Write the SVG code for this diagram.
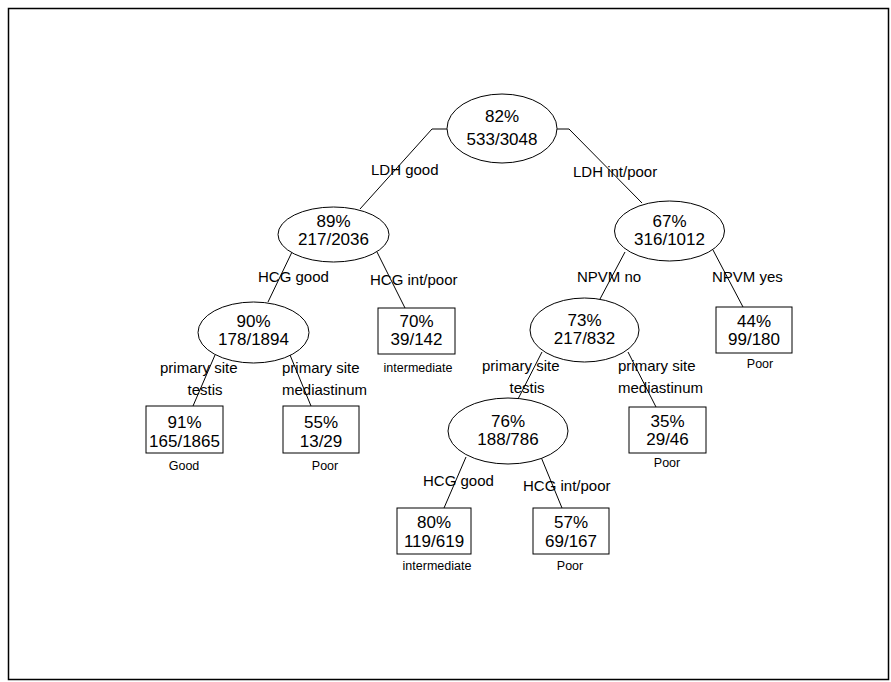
<svg xmlns="http://www.w3.org/2000/svg" width="891" height="682" viewBox="0 0 891 682">
<style>
.n{fill:#fff;stroke:#000;stroke-width:1}
.c{fill:none;stroke:#000;stroke-width:1}
.t{font-family:"Liberation Sans",Arial,sans-serif;font-size:17px;fill:#000;text-anchor:middle}
.l{font-family:"Liberation Sans",Arial,sans-serif;font-size:15px;fill:#000}
.s{font-family:"Liberation Sans",Arial,sans-serif;font-size:12.5px;fill:#000;text-anchor:middle}
</style>
<rect x="0" y="0" width="891" height="682" fill="#fff"/>
<rect x="8.5" y="8.5" width="880" height="671" fill="none" stroke="#000" stroke-width="1.5"/>
<g id="connectors">
<polyline class="c" points="447,129 432,129 360,209"/>
<polyline class="c" points="557,129 569,129 642,203"/>
<line class="c" x1="292" y1="252" x2="268" y2="302"/>
<line class="c" x1="377" y1="252" x2="405" y2="308"/>
<line class="c" x1="215" y1="355" x2="193" y2="406"/>
<line class="c" x1="290" y1="355" x2="311" y2="406"/>
<line class="c" x1="625" y1="252" x2="600" y2="299"/>
<line class="c" x1="713" y1="250" x2="743" y2="307"/>
<line class="c" x1="542" y1="352" x2="518" y2="399"/>
<line class="c" x1="628" y1="352" x2="656" y2="407"/>
<line class="c" x1="466" y1="457" x2="444" y2="508"/>
<line class="c" x1="541" y1="457" x2="562" y2="508"/>
</g>
<g id="labels">
<text class="l" x="371" y="175">LDH good</text>
<text class="l" x="573" y="177">LDH int/poor</text>
<text class="l" x="258" y="282">HCG good</text>
<text class="l" x="370" y="285">HCG int/poor</text>
<text class="l" x="577" y="282">NPVM no</text>
<text class="l" x="712" y="282">NPVM yes</text>
<text class="l" x="160" y="373">primary site</text>
<text class="l" x="205" y="395" text-anchor="middle">testis</text>
<text class="l" x="282" y="373">primary site</text>
<text class="l" x="282" y="395">mediastinum</text>
<text class="l" x="482" y="371">primary site</text>
<text class="l" x="527" y="393" text-anchor="middle">testis</text>
<text class="l" x="618" y="371">primary site</text>
<text class="l" x="618" y="393">mediastinum</text>
<text class="l" x="423" y="486">HCG good</text>
<text class="l" x="523" y="491">HCG int/poor</text>
</g>
<g id="n0"><ellipse class="n" cx="502" cy="128.5" rx="55" ry="34.5"/><text class="t" x="502" y="122">82%</text><text class="t" x="502" y="145">533/3048</text></g>
<g id="n1"><ellipse class="n" cx="333.5" cy="234.5" rx="55.5" ry="27.5"/><text class="t" x="333.5" y="227">89%</text><text class="t" x="333.5" y="245">217/2036</text></g>
<g id="n2"><ellipse class="n" cx="669.5" cy="231" rx="55" ry="30"/><text class="t" x="669.5" y="227">67%</text><text class="t" x="669.5" y="245">316/1012</text></g>
<g id="n3"><ellipse class="n" cx="253.5" cy="332.5" rx="55.5" ry="30.5"/><text class="t" x="253.5" y="327">90%</text><text class="t" x="253.5" y="345">178/1894</text></g>
<g id="n4"><ellipse class="n" cx="584.5" cy="330" rx="54.5" ry="32"/><text class="t" x="584.5" y="326">73%</text><text class="t" x="584.5" y="344">217/832</text></g>
<g id="n5"><ellipse class="n" cx="508" cy="431" rx="60" ry="33"/><text class="t" x="508" y="427">76%</text><text class="t" x="508" y="445">188/786</text></g>
<g id="b70"><rect class="n" x="378" y="308" width="77" height="46"/><text class="t" x="416.5" y="327">70%</text><text class="t" x="416.5" y="345">39/142</text><text class="s" x="418" y="372">intermediate</text></g>
<g id="b91"><rect class="n" x="146" y="406" width="77" height="47"/><text class="t" x="184.5" y="428">91%</text><text class="t" x="184.5" y="447">165/1865</text><text class="s" x="184" y="470">Good</text></g>
<g id="b55"><rect class="n" x="283" y="406" width="76" height="47"/><text class="t" x="321" y="428">55%</text><text class="t" x="321" y="447">13/29</text><text class="s" x="325" y="470">Poor</text></g>
<g id="b44"><rect class="n" x="716" y="307" width="76" height="46"/><text class="t" x="754" y="327">44%</text><text class="t" x="754" y="345">99/180</text><text class="s" x="760" y="368">Poor</text></g>
<g id="b35"><rect class="n" x="629" y="407" width="77" height="46"/><text class="t" x="667.5" y="427">35%</text><text class="t" x="667.5" y="445">29/46</text><text class="s" x="667" y="467">Poor</text></g>
<g id="b80"><rect class="n" x="397" y="508" width="74" height="46"/><text class="t" x="434" y="528">80%</text><text class="t" x="434" y="547">119/619</text><text class="s" x="437" y="570">intermediate</text></g>
<g id="b57"><rect class="n" x="533" y="508" width="76" height="46"/><text class="t" x="571" y="528">57%</text><text class="t" x="571" y="547">69/167</text><text class="s" x="570" y="570">Poor</text></g>
</svg>
